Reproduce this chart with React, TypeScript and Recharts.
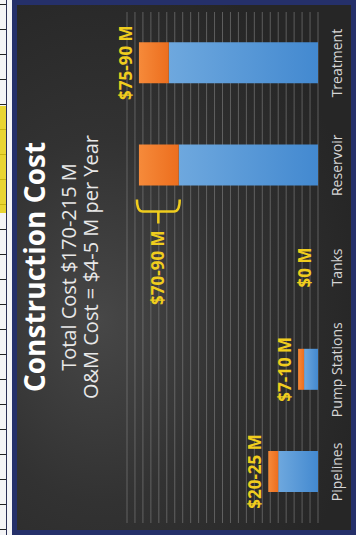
import React from "react";
import { BarChart, Bar, XAxis, YAxis, CartesianGrid, LabelList, ReferenceDot } from "recharts";

// the slide is turned a quarter turn, so the chart is drawn upright and then rotated
const categories = ["Pipelines", "Pump Stations", "Tanks", "Reservoir", "Treatment"];
const lowCost = [20, 7, 0, 70, 75];
const rangeCost = [5, 3, 0, 20, 15];
const valueLabels = ["$20-25 M", "$7-10 M", "$0 M", "$70-90 M", "$75-90 M"];
const bracketed = [false, false, false, true, false];
const gridTicks = [0, 4, 8, 12, 16, 20, 24, 28, 32, 36, 40, 44, 48, 52, 56, 60, 64, 68, 72, 76, 80, 84, 88, 92, 96];

const data = categories.map((name, i) => ({
  name,
  low: lowCost[i],
  range: rangeCost[i],
}));

const YELLOW = "#f0cd1e";
const FONT = "'Open Sans', sans-serif";

function ValueLabel(props: any) {
  const { x, y, width, height, value } = props;
  const index = categories.indexOf(value);
  const text = valueLabels[index];
  if (bracketed[index]) {
    const bx = x - 26;
    const top = y - 2;
    const bottom = y + height + 1;
    const mid = (top + bottom) / 2;
    return (
      <g>
        <path
          d={`M ${bx + 12} ${top} Q ${bx} ${top} ${bx} ${top + 6} L ${bx} ${bottom - 6} Q ${bx} ${bottom} ${bx + 12} ${bottom} M ${bx} ${mid} L ${bx - 12} ${mid}`}
          fill="none"
          stroke={YELLOW}
          strokeWidth={2.5}
        />
        <text x={x - 45} y={mid + 6} textAnchor="end" fill={YELLOW} fontFamily={FONT} fontWeight={700} fontSize={17}>
          {text}
        </text>
      </g>
    );
  }
  return (
    <text x={x + width / 2} y={y - 7} textAnchor="middle" fill={YELLOW} fontFamily={FONT} fontWeight={700} fontSize={17}>
      {text}
    </text>
  );
}

// zero-height bars get no LabelList entry, so their label hangs off a dot at the baseline
function ZeroLabel(index: number) {
  return (props: any) => (
    <text x={props.cx} y={props.cy - 7} textAnchor="middle" fill={YELLOW} fontFamily={FONT} fontWeight={700} fontSize={17}>
      {valueLabels[index]}
    </text>
  );
}

function LeftStrip() {
  return (
    <div style={{ position: "absolute", left: 0, top: 0, width: 12, height: 535, background: "#f4f4f6" }}>
      <div
        style={{
          position: "absolute",
          left: 0,
          top: 0,
          width: 6,
          height: 535,
          background: "repeating-linear-gradient(to bottom, transparent 0px, transparent 4px, #222 4px, #222 5px, transparent 5px, transparent 25px)",
        }}
      />
      <div style={{ position: "absolute", left: 0, top: 106, width: 6, height: 107, background: "#e6cf10", opacity: 0.85 }} />
      <div style={{ position: "absolute", left: 6, top: 0, width: 1, height: 535, background: "#2a2f55" }} />
    </div>
  );
}

export default function App() {
  return (
    <div style={{ position: "fixed", left: 0, top: 0, width: 356, height: 535, overflow: "hidden", background: "#fff" }}>
      <LeftStrip />
      <div
        style={{
          position: "absolute",
          left: 0,
          top: 0,
          width: 535,
          height: 356,
          transform: "translate(0px, 535px) rotate(-90deg)",
          transformOrigin: "0 0",
        }}
      >
        <div
          style={{
            position: "absolute",
            left: 0,
            top: 12,
            width: 535,
            height: 344,
            boxSizing: "border-box",
            border: "5px solid #25306a",
            background: "radial-gradient(ellipse 70% 80% at 40% 25%, #474747 0%, #323232 50%, #262626 100%)",
          }}
        />
        <svg width={535} height={356} style={{ position: "absolute", left: 0, top: 0 }}>
          <g fontFamily={FONT} textAnchor="middle">
            <text x={268} y={45} fill="#fff" fontWeight={700} fontSize={28}>
              Construction Cost
            </text>
            <text x={268} y={76} fill="#e8e8e8" fontSize={20}>
              Total Cost $170-215 M
            </text>
            <text x={268} y={98} fill="#e8e8e8" fontSize={20}>
              O&amp;M Cost = $4-5 M per Year
            </text>
          </g>
        </svg>
        <BarChart
          width={535}
          height={356}
          data={data}
          margin={{ top: 127, right: 12, bottom: 0, left: 12 }}
          barSize={41}
          style={{ position: "absolute", left: 0, top: 0 }}
        >
          <defs>
            <linearGradient id="blueFill" x1="0" y1="0" x2="0" y2="1">
              <stop offset="0%" stopColor="#6ea8de" />
              <stop offset="100%" stopColor="#4389d0" />
            </linearGradient>
            <linearGradient id="orangeFill" x1="0" y1="0" x2="0" y2="1">
              <stop offset="0%" stopColor="#f68a3a" />
              <stop offset="100%" stopColor="#ec6e1e" />
            </linearGradient>
          </defs>
          <CartesianGrid vertical={false} stroke="#8a8a8a" strokeOpacity={0.55} />
          <XAxis
            dataKey="name"
            height={38}
            axisLine={false}
            tickLine={false}
            tickMargin={8}
            tick={{ fill: "#d6d6d6", fontSize: 14, fontFamily: FONT }}
            interval={0}
          />
          <YAxis
            width={0}
            domain={[0, 96]}
            ticks={gridTicks}
            interval={0}
            tick={{ fill: "transparent", fontSize: 1 }}
            axisLine={false}
            tickLine={false}
          />
          <Bar dataKey="low" stackId="cost" fill="url(#blueFill)" isAnimationActive={false} />
          <Bar dataKey="range" stackId="cost" fill="url(#orangeFill)" isAnimationActive={false}>
            <LabelList dataKey="name" content={ValueLabel} />
          </Bar>
          {data.map((d, i) =>
            d.low + d.range === 0 ? (
              <ReferenceDot key={d.name} x={d.name} y={0} r={0} shape={ZeroLabel(i)} />
            ) : null
          )}
        </BarChart>
      </div>
    </div>
  );
}
